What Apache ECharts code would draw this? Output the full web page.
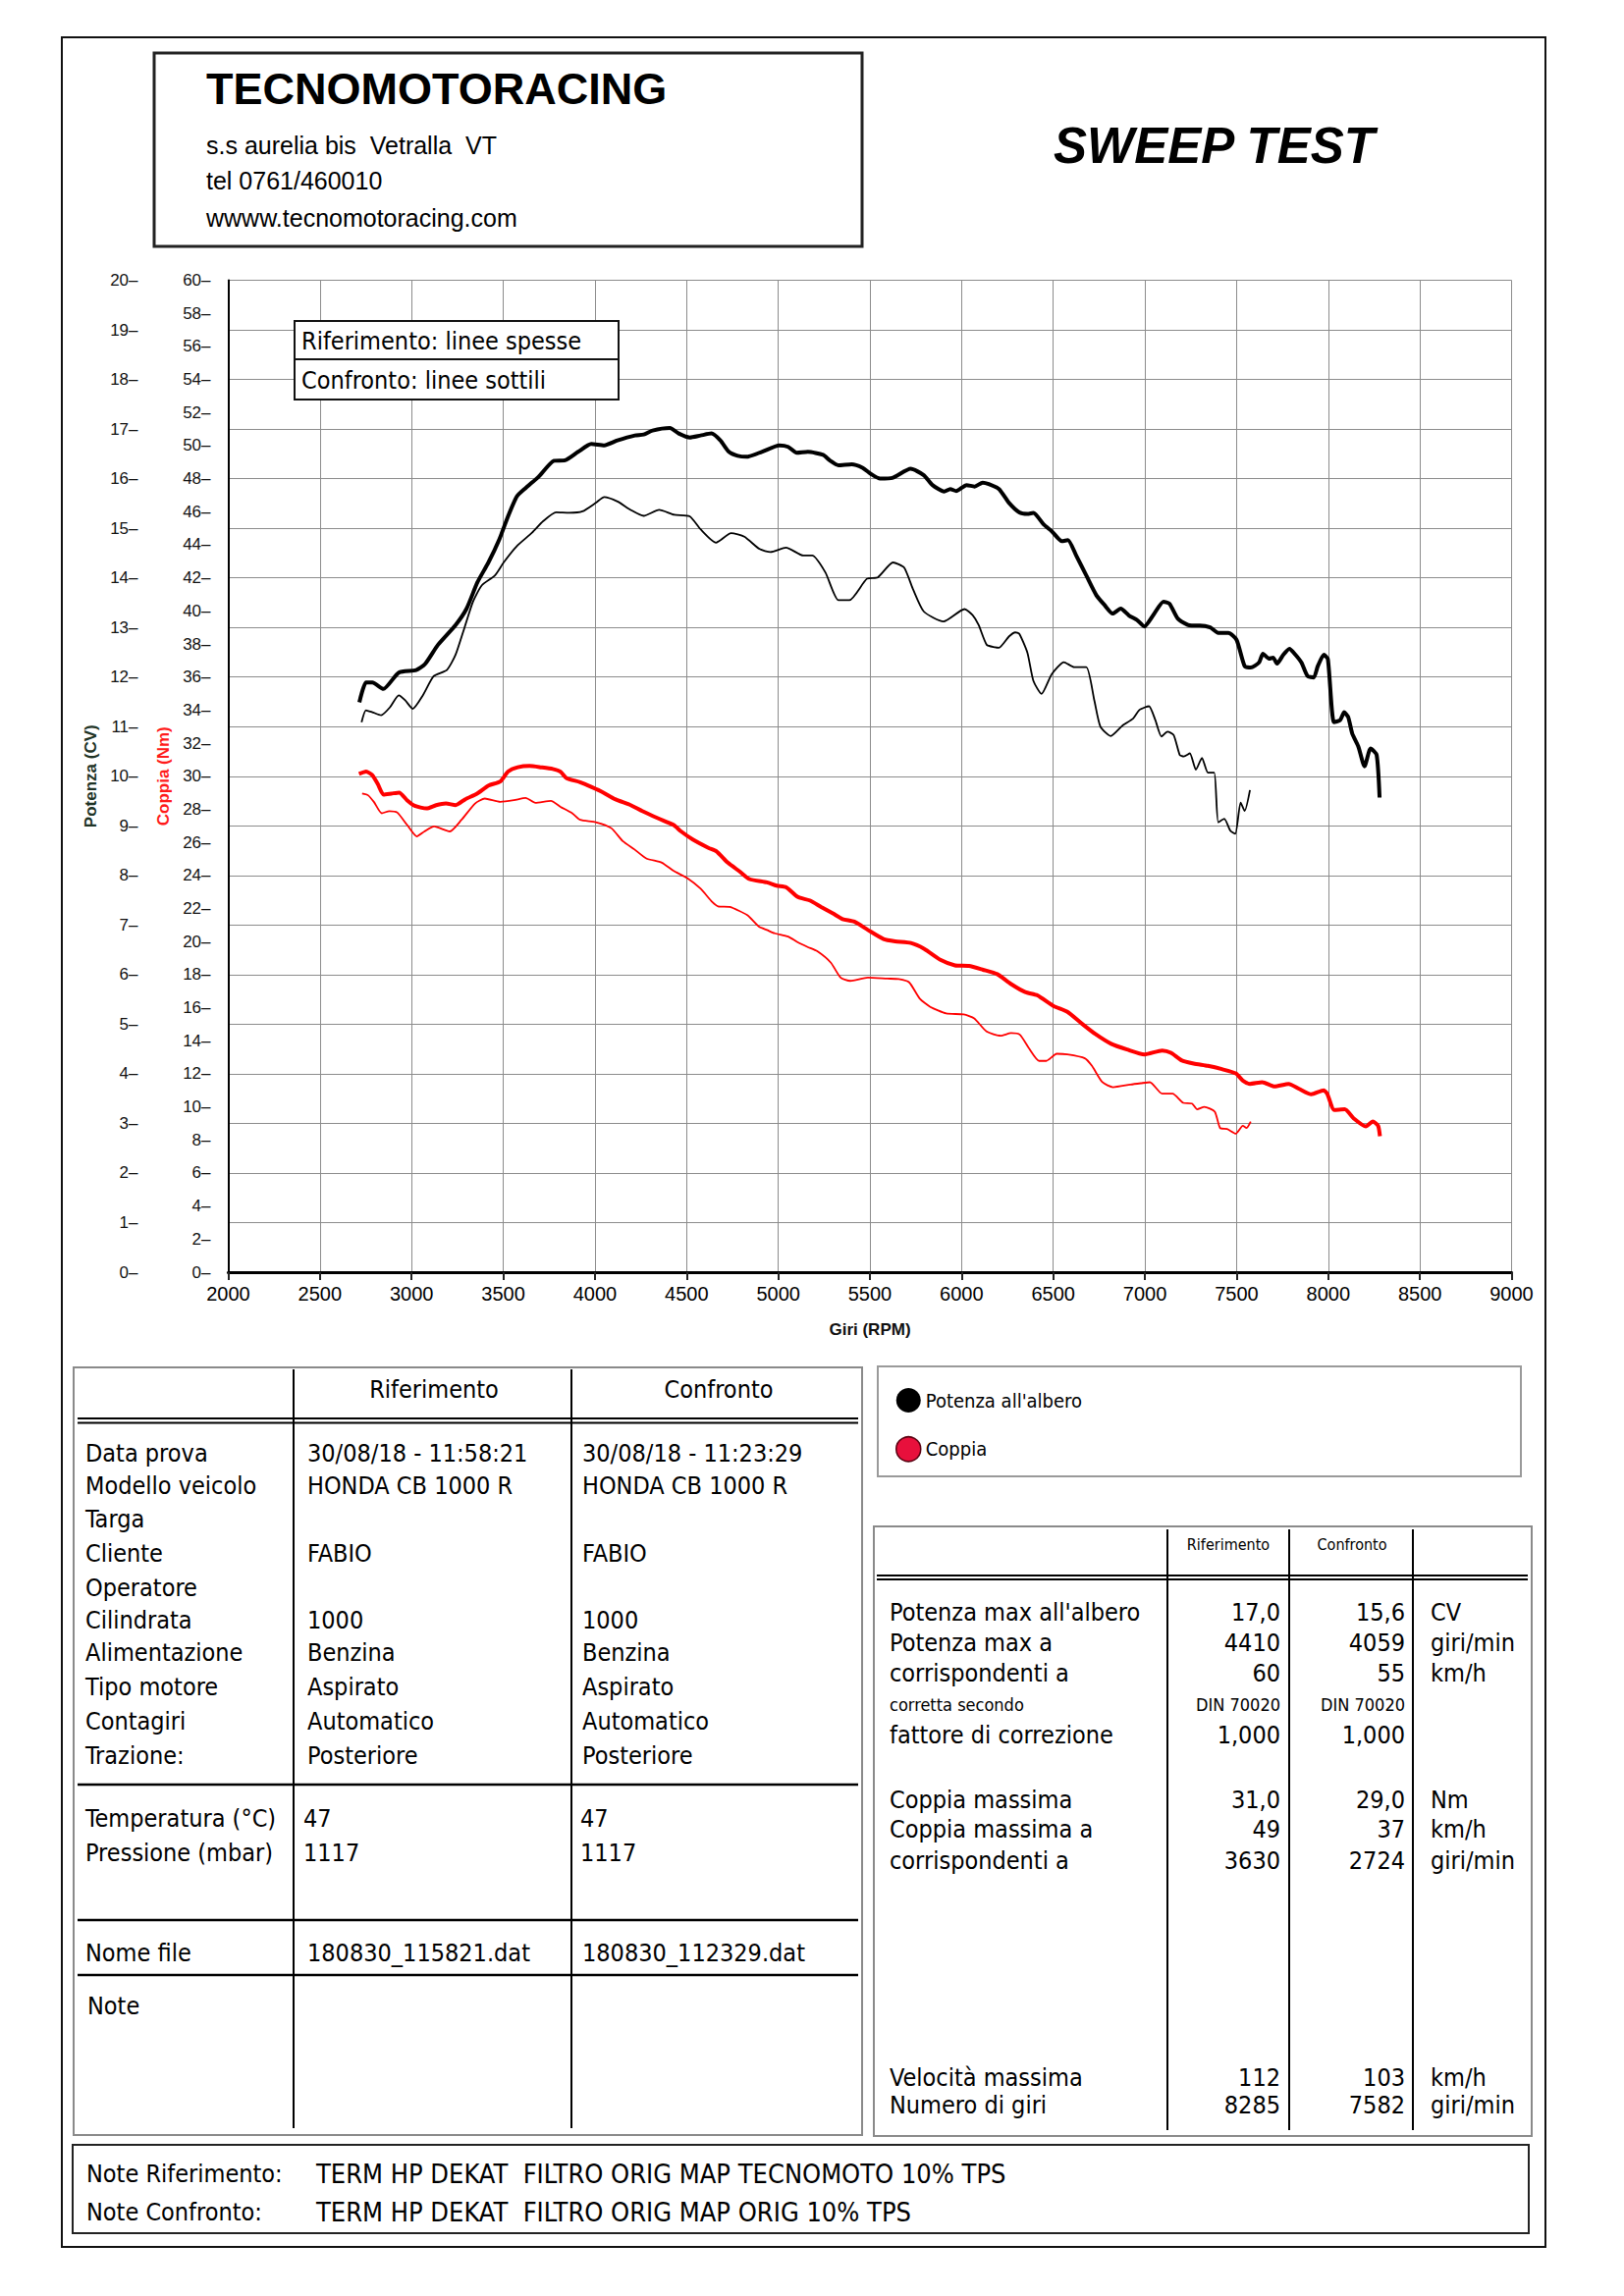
<!DOCTYPE html>
<html>
<head>
<meta charset="utf-8">
<script src="https://cdn.jsdelivr.net/npm/echarts@6.0.0/dist/echarts.min.js"></script>
<style>
html,body{margin:0;padding:0;background:#fff;}
#chart{width:1654px;height:2339px;}
</style>
</head>
<body>
<div id="chart"></div>
<script>
// ---------- DATA ----------
// Potenza (CV) - Riferimento (linee spesse) [rpm, CV]
const potenzaRif = [[2715,11.49],[2751,11.89],[2786,11.89],[2846,11.76],[2930,12.09],[3025,12.14],[3073,12.26],[3144,12.65],[3240,13.05],[3300,13.38],[3359,13.91],[3419,14.31],[3479,14.78],[3526,15.24],[3574,15.64],[3622,15.81],[3693,16.04],[3777,16.36],[3837,16.37],[3908,16.54],[3980,16.70],[4051,16.67],[4123,16.77],[4218,16.87],[4266,16.89],[4314,16.97],[4409,17.02],[4457,16.91],[4517,16.83],[4576,16.87],[4636,16.91],[4684,16.77],[4731,16.54],[4779,16.46],[4827,16.44],[4910,16.54],[5006,16.67],[5054,16.64],[5101,16.52],[5161,16.54],[5245,16.48],[5280,16.37],[5328,16.27],[5400,16.29],[5459,16.22],[5507,16.09],[5555,16.00],[5626,16.02],[5722,16.20],[5794,16.07],[5841,15.87],[5905,15.74],[5938,15.79],[5971,15.75],[6027,15.87],[6071,15.84],[6115,15.92],[6148,15.89],[6204,15.79],[6259,15.51],[6315,15.32],[6359,15.29],[6392,15.31],[6447,15.08],[6492,14.94],[6547,14.74],[6580,14.76],[6625,14.45],[6680,14.05],[6735,13.65],[6780,13.45],[6824,13.28],[6868,13.38],[6913,13.24],[6957,13.15],[6997,13.02],[7046,13.25],[7101,13.52],[7134,13.48],[7179,13.18],[7234,13.05],[7256,13.04],[7300,13.04],[7356,13.00],[7400,12.89],[7455,12.89],[7500,12.75],[7544,12.22],[7577,12.19],[7622,12.29],[7644,12.47],[7677,12.37],[7699,12.39],[7721,12.27],[7755,12.45],[7788,12.57],[7821,12.45],[7854,12.29],[7887,12.02],[7921,11.99],[7943,12.22],[7976,12.45],[7998,12.36],[8031,11.09],[8065,11.13],[8087,11.29],[8109,11.19],[8131,10.86],[8164,10.60],[8198,10.20],[8231,10.56],[8264,10.43],[8280,9.57]];
// Potenza (CV) - Confronto (linee sottili)
const potenzaConf = [[2727,11.09],[2751,11.33],[2786,11.29],[2834,11.23],[2882,11.39],[2930,11.63],[2965,11.53],[3006,11.36],[3061,11.63],[3121,12.02],[3192,12.14],[3240,12.45],[3288,12.99],[3335,13.52],[3383,13.85],[3455,14.05],[3502,14.31],[3574,14.64],[3657,14.91],[3717,15.14],[3789,15.32],[3860,15.31],[3932,15.34],[4004,15.51],[4051,15.63],[4123,15.54],[4195,15.37],[4266,15.25],[4350,15.37],[4433,15.27],[4517,15.24],[4576,14.98],[4660,14.71],[4743,14.90],[4815,14.83],[4898,14.58],[4958,14.52],[5042,14.61],[5137,14.45],[5185,14.45],[5257,14.11],[5328,13.55],[5388,13.55],[5483,13.98],[5543,14.01],[5626,14.31],[5686,14.21],[5734,13.78],[5794,13.32],[5901,13.12],[6016,13.37],[6060,13.25],[6093,13.05],[6137,12.65],[6182,12.60],[6204,12.59],[6259,12.82],[6293,12.90],[6315,12.87],[6359,12.49],[6392,11.92],[6436,11.66],[6492,12.06],[6558,12.30],[6614,12.20],[6680,12.20],[6724,11.53],[6757,11.00],[6813,10.81],[6880,11.03],[6935,11.16],[6968,11.33],[7001,11.39],[7023,11.41],[7057,11.13],[7090,10.80],[7123,10.90],[7157,10.83],[7190,10.43],[7212,10.40],[7245,10.46],[7278,10.13],[7311,10.37],[7344,10.07],[7378,10.07],[7400,9.07],[7433,9.14],[7466,8.90],[7493,8.84],[7522,9.47],[7544,9.30],[7573,9.72]];
// Coppia (Nm) - Riferimento
const coppiaRif = [[2713,30.14],[2752,30.28],[2784,30.08],[2815,29.54],[2847,28.89],[2890,28.95],[2932,29.01],[2975,28.55],[3017,28.21],[3081,28.05],[3134,28.25],[3187,28.35],[3240,28.25],[3293,28.61],[3357,28.95],[3420,29.44],[3484,29.68],[3526,30.28],[3579,30.54],[3643,30.62],[3707,30.54],[3770,30.44],[3812,30.28],[3845,29.88],[3919,29.64],[3983,29.34],[4046,29.01],[4110,28.61],[4195,28.25],[4258,27.89],[4343,27.46],[4428,27.06],[4470,26.66],[4534,26.17],[4619,25.67],[4662,25.47],[4725,24.77],[4789,24.24],[4842,23.78],[4938,23.58],[4991,23.38],[5044,23.28],[5107,22.69],[5171,22.49],[5234,22.09],[5298,21.70],[5351,21.36],[5415,21.20],[5489,20.70],[5574,20.15],[5638,20.01],[5723,19.91],[5797,19.55],[5887,18.88],[5964,18.56],[6040,18.52],[6117,18.29],[6194,18.03],[6270,17.43],[6347,16.94],[6414,16.74],[6500,16.11],[6577,15.75],[6653,15.06],[6730,14.40],[6816,13.81],[6902,13.47],[6998,13.17],[7094,13.41],[7142,13.27],[7199,12.82],[7266,12.62],[7343,12.48],[7420,12.28],[7496,12.02],[7534,11.59],[7573,11.39],[7640,11.49],[7707,11.23],[7784,11.39],[7841,11.09],[7908,10.76],[7975,11.00],[7994,10.80],[8033,9.81],[8090,9.85],[8138,9.31],[8205,8.81],[8243,9.11],[8272,8.86],[8282,8.22]];
// Coppia (Nm) - Confronto
const coppiaConf = [[2730,28.95],[2762,28.85],[2794,28.45],[2837,27.76],[2879,27.89],[2921,27.81],[2975,27.06],[3028,26.36],[3070,26.66],[3123,26.96],[3208,26.66],[3272,27.36],[3346,28.35],[3399,28.65],[3484,28.45],[3558,28.55],[3622,28.69],[3675,28.39],[3760,28.51],[3812,28.15],[3876,27.76],[3919,27.36],[4004,27.22],[4089,26.86],[4152,26.07],[4216,25.57],[4280,25.03],[4365,24.77],[4428,24.28],[4503,23.84],[4577,23.19],[4640,22.39],[4672,22.13],[4736,22.09],[4831,21.60],[4895,20.90],[4938,20.70],[4980,20.50],[5054,20.30],[5107,19.95],[5160,19.67],[5213,19.41],[5287,18.72],[5340,17.82],[5393,17.62],[5489,17.82],[5595,17.76],[5657,17.73],[5714,17.53],[5772,16.54],[5829,16.05],[5916,15.65],[6011,15.59],[6069,15.35],[6136,14.56],[6213,14.30],[6270,14.46],[6318,14.36],[6366,13.57],[6423,12.78],[6462,12.78],[6519,13.21],[6577,13.17],[6672,12.94],[6711,12.48],[6768,11.49],[6826,11.19],[6921,11.35],[6979,11.43],[7027,11.49],[7094,10.80],[7151,10.80],[7209,10.24],[7257,10.20],[7285,9.85],[7324,10.00],[7381,9.71],[7410,8.72],[7448,8.66],[7496,8.38],[7534,8.85],[7554,8.72],[7577,9.11]];

// Axis ranges / ticks
const rpmRange = [2000, 9000, 500];
const cvRange = [0, 20, 1];
const nmRange = [0, 60, 2];

// Texts
const titolo = 'TECNOMOTORACING';
const indirizzo = ['s.s aurelia bis  Vetralla  VT', 'tel 0761/460010', 'wwww.tecnomotoracing.com'];
const sottotitolo = 'SWEEP TEST';
const boxLinee = ['Riferimento: linee spesse', 'Confronto: linee sottili'];
const colonne = ['Riferimento', 'Confronto'];
const infoLabels = ['Data prova','Modello veicolo','Targa','Cliente','Operatore','Cilindrata','Alimentazione','Tipo motore','Contagiri','Trazione:'];
const infoRif = ['30/08/18 - 11:58:21','HONDA CB 1000 R','','FABIO','','1000','Benzina','Aspirato','Automatico','Posteriore'];
const infoConf = ['30/08/18 - 11:23:29','HONDA CB 1000 R','','FABIO','','1000','Benzina','Aspirato','Automatico','Posteriore'];
const ambLabels = ['Temperatura (°C)','Pressione (mbar)'];
const ambRif = ['47','1117'];
const ambConf = ['47','1117'];
const fileRif = '180830_115821.dat', fileConf = '180830_112329.dat';
const risLabels = ["Potenza max all'albero",'Potenza max a','corrispondenti a','corretta secondo','fattore di correzione','Coppia massima','Coppia massima a','corrispondenti a','Velocità massima','Numero di giri'];
const risRif = ['17,0','4410','60','DIN 70020','1,000','31,0','49','3630','112','8285'];
const risConf = ['15,6','4059','55','DIN 70020','1,000','29,0','37','2724','103','7582'];
const risUnit = ['CV','giri/min','km/h','','','Nm','km/h','giri/min','km/h','giri/min'];
const noteRif = 'TERM HP DEKAT  FILTRO ORIG MAP TECNOMOTO 10% TPS';
const noteConf = 'TERM HP DEKAT  FILTRO ORIG MAP ORIG 10% TPS';

// ---------- STYLE / LAYOUT ----------
const FC = '"DejaVu Sans Condensed","DejaVu Sans",sans-serif';
const FA = '"Liberation Sans",Arial,sans-serif';
const FN = '"Liberation Sans Narrow","Liberation Sans",Arial,sans-serif';
const FS = 25; // table font size

function T(x, y, text, size, o) {
  o = o || {};
  return {type:'text', x:x, y:y, z:100, silent:true,
    style:{text:text, fill:o.color||'#000',
      font:(o.style||'normal')+' '+(o.weight||'normal')+' '+size+'px '+(o.family||FC),
      textAlign:o.align||'left', textVerticalAlign:'middle'}};
}
function L(x1,y1,x2,y2,w,c){return {type:'line',z:100,silent:true,shape:{x1:x1,y1:y1,x2:x2,y2:y2},style:{stroke:c||'#000',lineWidth:w||2}};}
function R(x,y,w,h,stroke,lw,fill){return {type:'rect',z:99,silent:true,shape:{x:x,y:y,width:w,height:h},style:{stroke:stroke,lineWidth:lw,fill:fill||'none'}};}

const g = [];
// outer frame
g.push(R(63,38,1511,2251,'#111',2));
// header
g.push(R(157,54,721,197,'#222',3,'#fff'));
g.push(T(210,90,titolo,45,{weight:'bold',family:FA}));
g.push(T(210,148,indirizzo[0],25,{family:FA}));
g.push(T(210,184,indirizzo[1],25,{family:FA}));
g.push(T(210,222,indirizzo[2],25,{family:FA}));
g.push(T(1073,148,sottotitolo,51,{weight:'bold',style:'italic',family:FA}));
// in-plot box
g.push(R(300,327,330,80,'#111',2,'#fff'));
g.push(L(300,366,630,366,2,'#111'));
g.push(T(307,347,boxLinee[0],25));
g.push(T(307,387,boxLinee[1],25));

// left table
g.push(R(75,1393,803,782,'#8a8a8a',2,'none'));
g.push(L(299,1395,299,2168,2));
g.push(L(582,1395,582,2168,2));
g.push(L(79,1445,874,1445,2));
g.push(L(79,1449.5,874,1449.5,2));
g.push(L(79,1818,874,1818,2.5));
g.push(L(79,1956,874,1956,2.5));
g.push(L(79,2012,874,2012,2.5));
g.push(T(442,1415,colonne[0],FS,{align:'center'}));
g.push(T(732,1415,colonne[1],FS,{align:'center'}));
const infoY = [1480,1513,1547,1582,1617,1650,1683,1718,1753,1788];
infoLabels.forEach(function(s,i){
  g.push(T(87,infoY[i],s,FS));
  if (infoRif[i]) g.push(T(313,infoY[i],infoRif[i],FS));
  if (infoConf[i]) g.push(T(593,infoY[i],infoConf[i],FS));
});
const ambY = [1852,1887];
ambLabels.forEach(function(s,i){
  g.push(T(87,ambY[i],s,FS));
  g.push(T(309,ambY[i],ambRif[i],FS));
  g.push(T(591,ambY[i],ambConf[i],FS));
});
g.push(T(87,1989,'Nome file',FS));
g.push(T(313,1989,fileRif,FS));
g.push(T(593,1989,fileConf,FS));
g.push(T(89,2043,'Note',FS));

// legend box
g.push(R(894,1392,655,112,'#9a9a9a',2,'none'));

// right table
g.push(R(890,1555,670,621,'#8a8a8a',2,'none'));
g.push(L(1189,1558,1189,2170,2));
g.push(L(1313,1558,1313,2170,2));
g.push(L(1439,1558,1439,2170,2));
g.push(L(893,1605,1556,1605,2));
g.push(L(893,1609,1556,1609,2));
g.push(T(1251,1573,colonne[0],16,{align:'center'}));
g.push(T(1377,1573,colonne[1],16,{align:'center'}));
const risY = [1642,1673,1704,1736,1767,1833,1863,1895,2116,2144];
risLabels.forEach(function(s,i){
  const small = (i===3);
  g.push(T(906,risY[i],s,small?18:FS));
  g.push(T(1304,risY[i],risRif[i],small?18:FS,{align:'right'}));
  g.push(T(1431,risY[i],risConf[i],small?18:FS,{align:'right'}));
  if (risUnit[i]) g.push(T(1457,risY[i],risUnit[i],FS));
});

// bottom notes box
g.push(R(74,2185,1483,90,'#222',2,'none'));
g.push(T(88,2214,'Note Riferimento:',FS));
g.push(T(322,2214,noteRif,27));
g.push(T(88,2253,'Note Confronto:',FS));
g.push(T(322,2253,noteConf,27));

const POT = "Potenza all'albero", COP = 'Coppia';
const gridCol = '#8c8c8c';

const option = {
  backgroundColor:'#fff',
  animation:false,
  grid:{left:232.5, right:114.5, top:285.5, bottom:1043, containLabel:false, show:false},
  legend:{
    orient:'vertical', left:907, top:1409, itemWidth:25, itemHeight:25, itemGap:24,
    icon:'circle', selectedMode:false,
    textStyle:{fontFamily:FC, fontSize:20, color:'#000'},
    data:[{name:POT, itemStyle:{color:'#000'}},
          {name:COP, itemStyle:{color:'#e8103c', borderColor:'#5a0010', borderWidth:1.5}}]
  },
  xAxis:[{
    type:'value', min:rpmRange[0], max:rpmRange[1], interval:rpmRange[2], position:'bottom',
    axisLine:{onZero:false, lineStyle:{color:'#222', width:2}},
    axisTick:{show:true, length:8, lineStyle:{color:'#222', width:2}},
    axisLabel:{fontFamily:FN, fontSize:20, color:'#000', margin:12, formatter:function(v){return String(v);}},
    splitLine:{show:true, lineStyle:{color:gridCol, width:1}},
    name:'Giri (RPM)', nameLocation:'middle', nameGap:50,
    nameTextStyle:{fontFamily:FA, fontWeight:'bold', fontSize:17, color:'#111'}
  },{
    type:'value', min:rpmRange[0], max:rpmRange[1], position:'top',
    axisLine:{lineStyle:{color:'#000', width:3}},
    axisTick:{show:false}, axisLabel:{show:false}, splitLine:{show:false}
  }],
  yAxis:[{
    type:'value', min:nmRange[0], max:nmRange[1], interval:nmRange[2], position:'left', offset:0,
    axisLine:{show:true, onZero:false, lineStyle:{color:'#000', width:2}},
    axisTick:{show:false},
    axisLabel:{formatter:'{value}–', fontFamily:FA, fontSize:17, color:'#111', margin:18},
    splitLine:{show:false},
    name:'Coppia (Nm)', nameLocation:'middle', nameRotate:90, nameGap:55,
    nameTextStyle:{fontFamily:FA, fontWeight:'bold', fontSize:17, color:'#ff1a1a'}
  },{
    type:'value', min:cvRange[0], max:cvRange[1], interval:cvRange[2], position:'left', offset:74,
    axisLine:{show:false}, axisTick:{show:false},
    axisLabel:{formatter:'{value}–', fontFamily:FA, fontSize:17, color:'#111', margin:18},
    splitLine:{show:true, lineStyle:{color:gridCol, width:1}},
    name:'Potenza (CV)', nameLocation:'middle', nameRotate:90, nameGap:56,
    nameTextStyle:{fontFamily:FA, fontWeight:'bold', fontSize:17, color:'#1e3325'}
  }],
  series:[
    {name:POT, type:'line', yAxisIndex:1, data:potenzaRif, showSymbol:false, symbol:'none', smooth:0.2,
      lineStyle:{color:'#000', width:4}, itemStyle:{color:'#000'}, z:5},
    {name:POT, type:'line', yAxisIndex:1, data:potenzaConf, showSymbol:false, symbol:'none', smooth:0.2,
      lineStyle:{color:'#000', width:1.8}, itemStyle:{color:'#000'}, z:4},
    {name:COP, type:'line', yAxisIndex:0, data:coppiaRif, showSymbol:false, symbol:'none', smooth:0.2,
      lineStyle:{color:'#ff0000', width:4}, itemStyle:{color:'#ff0000'}, z:5},
    {name:COP, type:'line', yAxisIndex:0, data:coppiaConf, showSymbol:false, symbol:'none', smooth:0.2,
      lineStyle:{color:'#ff0000', width:1.8}, itemStyle:{color:'#ff0000'}, z:4}
  ],
  graphic:{elements:g}
};

const chart = echarts.init(document.getElementById('chart'), null, {renderer:'svg', width:1654, height:2339});
chart.setOption(option);
</script>
</body>
</html>
